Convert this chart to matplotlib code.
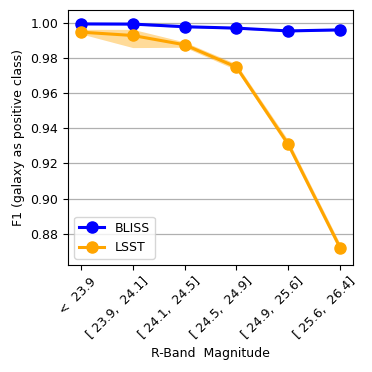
import matplotlib
matplotlib.use("Agg")
import matplotlib.pyplot as plt
import matplotlib.transforms as mtransforms
import numpy as np

categories = ["<  23.9", "[ 23.9,  24.1]", "[ 24.1,  24.5]", "[ 24.5,  24.9]", "[ 24.9,  25.6]", "[ 25.6,  26.4]"]
bliss = [0.9995, 0.9994, 0.9979, 0.9971, 0.9955, 0.9961]
bliss_lo = [0.9990, 0.9989, 0.9974, 0.9966, 0.9950, 0.9956]
bliss_hi = [0.9999, 0.9999, 0.9984, 0.9976, 0.9960, 0.9966]
lsst = [0.9948, 0.9929, 0.9876, 0.9749, 0.9309, 0.8720]
lsst_lo = [0.9938, 0.9860, 0.9862, 0.9733, 0.9288, 0.8698]
lsst_hi = [0.9964, 0.9964, 0.9892, 0.9767, 0.9332, 0.8742]

fs = 9
fig, ax = plt.subplots(figsize=(3.72, 3.72), dpi=100)
x = np.arange(len(categories))
ax.fill_between(x, bliss_lo, bliss_hi, color="blue", alpha=0.3, lw=0)
ax.plot(x, bliss, "-o", color="blue", lw=2.2, ms=8, label="BLISS")
ax.fill_between(x, lsst_lo, lsst_hi, color="orange", alpha=0.4, lw=0)
ax.plot(x, lsst, "-o", color="orange", lw=2.2, ms=8, label="LSST")
ax.set_xlim(-0.25, 5.25)
ax.set_ylim(0.862, 1.0074)
ax.set_yticks([0.88, 0.90, 0.92, 0.94, 0.96, 0.98, 1.00])
ax.yaxis.grid(True, color="#b0b0b0", lw=0.9)
ax.set_axisbelow(True)
ax.set_xticks(x)
ax.set_xticklabels(categories, rotation=45, ha="right", fontsize=fs)
offset = mtransforms.ScaledTranslation(0.18, 0, fig.dpi_scale_trans)
for lab in ax.get_xticklabels():
    lab.set_transform(lab.get_transform() + offset)
ax.tick_params(axis="y", labelsize=fs)
ax.set_xlabel("R-Band  Magnitude", fontsize=fs)
ax.set_ylabel("F1 (galaxy as positive class)", fontsize=fs)
ax.legend(loc="lower left", fontsize=fs)
fig.subplots_adjust(left=0.183, right=0.949, top=0.973, bottom=0.287)
fig.savefig("out.png", dpi=100)
